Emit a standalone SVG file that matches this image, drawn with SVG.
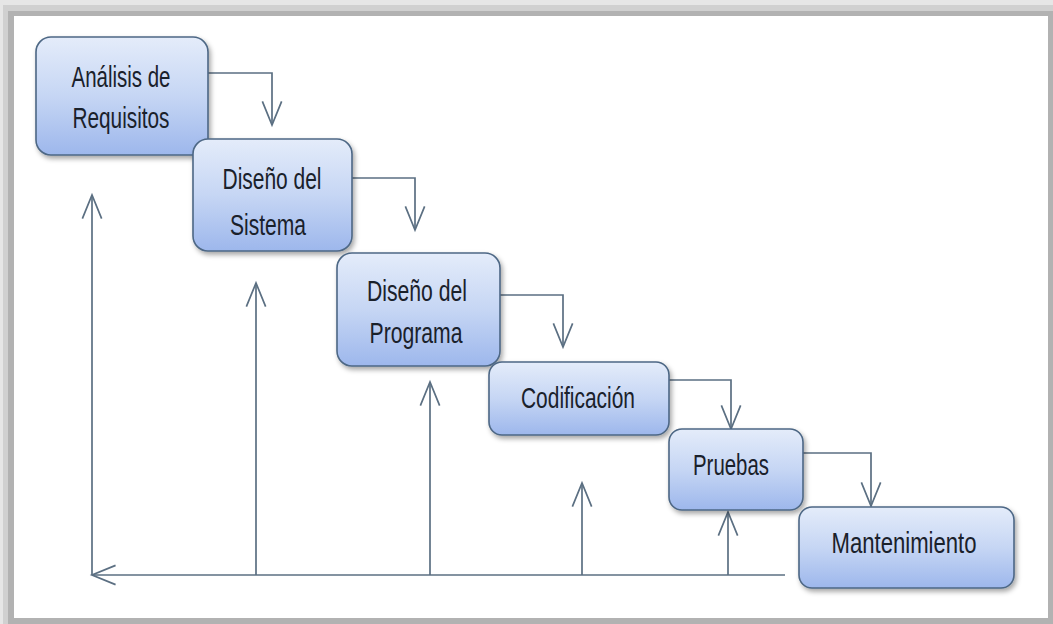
<svg xmlns="http://www.w3.org/2000/svg" width="1053" height="624" viewBox="0 0 1053 624">
<defs>
<linearGradient id="g" x1="0" y1="0" x2="0" y2="1">
<stop offset="0" stop-color="#e4ecfa"/>
<stop offset="0.5" stop-color="#c6d6f4"/>
<stop offset="1" stop-color="#9db7ec"/>
</linearGradient>
<filter id="sh" x="-10%" y="-10%" width="125%" height="135%">
<feDropShadow dx="2" dy="3" stdDeviation="2.5" flood-color="#000" flood-opacity="0.35"/>
</filter>
<marker id="ah" markerUnits="userSpaceOnUse" markerWidth="30" markerHeight="30" viewBox="-25 -12 28 24" refX="0" refY="0" orient="auto">
<path d="M-22,-9 L0,0 L-22,9" fill="none" stroke="#5b6f82" stroke-width="1.6"/>
</marker>
<clipPath id="clipSis"><rect x="193" y="139" width="159" height="96"/></clipPath>
</defs>
<style>
.box{fill:url(#g);stroke:#4d6785;stroke-width:1.6;filter:url(#sh)}
.lbl{font-family:"Liberation Sans",Arial,sans-serif;font-size:29px;fill:#1a212b;text-anchor:middle}
.arr{fill:none;stroke:#5b6f82;stroke-width:1.7;marker-end:url(#ah)}
</style>
<rect x="0" y="0" width="1053" height="624" fill="#e6e6e6"/>
<rect x="3" y="5" width="1050" height="619" fill="#d0d0d0"/>
<rect x="8" y="11" width="1045" height="613" fill="#b2b2b2"/>
<rect x="14" y="16" width="1034" height="602" fill="#ffffff"/>
<g id="connectors">
<path class="arr" d="M208,73 H272 V125"/>
<path class="arr" d="M352,178 H415 V230"/>
<path class="arr" d="M500,295 H563 V347"/>
<path class="arr" d="M663,380 H731 V429"/>
<path class="arr" d="M803,453 H871 V506"/>
<path class="arr" d="M785,575 H92"/>
<path class="arr" d="M92,575 V195"/>
<path class="arr" d="M256,575 V283"/>
<path class="arr" d="M430,575 V382"/>
<path class="arr" d="M582,575 V483"/>
<path class="arr" d="M728,575 V512"/>
</g>
<g id="n1">
<rect class="box" x="36" y="37" width="172" height="118" rx="15"/>
<text class="lbl" x="121" y="87" textLength="99" lengthAdjust="spacingAndGlyphs">Análisis de</text>
<text class="lbl" x="121" y="128" textLength="97" lengthAdjust="spacingAndGlyphs">Requisitos</text>
</g>
<g id="n2">
<rect class="box" x="193" y="139" width="159" height="112" rx="15"/>
<text class="lbl" x="272" y="189" textLength="99" lengthAdjust="spacingAndGlyphs">Diseño del</text>
<text class="lbl" x="268" y="235" textLength="76" lengthAdjust="spacingAndGlyphs" clip-path="url(#clipSis)">Sistema</text>
</g>
<g id="n3">
<rect class="box" x="337" y="253" width="163" height="113" rx="15"/>
<text class="lbl" x="417" y="301" textLength="100" lengthAdjust="spacingAndGlyphs">Diseño del</text>
<text class="lbl" x="416" y="343" textLength="93" lengthAdjust="spacingAndGlyphs">Programa</text>
</g>
<g id="n4">
<rect class="box" x="489" y="362" width="180" height="73" rx="13"/>
<text class="lbl" x="578" y="408" textLength="114" lengthAdjust="spacingAndGlyphs">Codificación</text>
</g>
<g id="n5">
<rect class="box" x="669" y="429" width="134" height="81" rx="13"/>
<text class="lbl" x="731" y="475" textLength="76" lengthAdjust="spacingAndGlyphs">Pruebas</text>
</g>
<g id="n6">
<rect class="box" x="799" y="507" width="215" height="81" rx="13"/>
<text class="lbl" x="904" y="553" textLength="145" lengthAdjust="spacingAndGlyphs">Mantenimiento</text>
</g>
</svg>
